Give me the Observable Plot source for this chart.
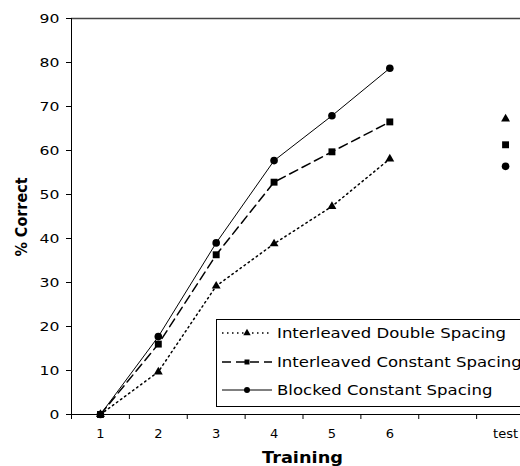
<!DOCTYPE html>
<html><head><meta charset="utf-8">
<script src="https://cdn.jsdelivr.net/npm/d3@7"></script>
<script src="https://cdn.jsdelivr.net/npm/@observablehq/plot@0.6"></script>
<style>body{margin:0;background:#fff} svg{font-family:"DejaVu Sans",Verdana,sans-serif}</style>
</head><body><div id="chart"></div>
<script>
const slots = [1, 2, 3, 4, 5, 6, 8];
const slotLabels = ["1", "2", "3", "4", "5", "6", "test"];
const slotBoundaries = [0.5, 1.5, 2.5, 3.5, 4.5, 5.5, 6.5, 7.5, 8.5];
const seriesNames = ["Interleaved Double Spacing", "Interleaved Constant Spacing", "Blocked Constant Spacing"];
const doubleSpacing = [0, 9.7, 29.2, 38.8, 47.3, 58.1, 67.2];
const constantSpacing = [0, 16.0, 36.3, 52.8, 59.7, 66.5, 61.3];
const blockedSpacing = [0, 17.7, 39.0, 57.7, 67.9, 78.7, 56.4];
const yTicks = [0, 10, 20, 30, 40, 50, 60, 70, 80, 90];

const styles = [
  {symbol: "triangle", r: 3.3, dash: "1.5,3.5", sw: 1.5},
  {symbol: "square", r: 3.9, dash: "9,5", sw: 1.5},
  {symbol: "circle", r: 3.8, dash: null, sw: 1}
];
const seriesValues = [doubleSpacing, constantSpacing, blockedSpacing];
const rows = [];
seriesValues.forEach((vals, i) => vals.forEach((v, j) => rows.push({series: seriesNames[i], idx: i, slot: slots[j], value: v})));

const marks = [
  Plot.ruleY([90], {stroke: "#444", strokeWidth: 1.5}),
  Plot.ruleX([0.5], {stroke: "black"}),
  Plot.ruleY([0], {stroke: "black"}),
  Plot.axisY({ticks: yTicks, tickSize: 5, tickPadding: 7, fontSize: 13, label: null, stroke: "black", className: "ytick"}),
  Plot.axisX({ticks: slotBoundaries, tickSize: 5, tickFormat: () => "", label: null}),
  Plot.axisX({ticks: slots, tickSize: 0, tickPadding: 14, fontSize: 13, label: null,
    tickFormat: d => slotLabels[slots.indexOf(d)]})
];
styles.forEach((s, i) => {
  const data = rows.filter(r => r.idx === i);
  marks.push(Plot.line(data.filter(r => r.slot <= 6), {x: "slot", y: "value", stroke: "black",
    strokeWidth: s.sw, strokeDasharray: s.dash}));
  marks.push(Plot.dot(data, {x: "slot", y: "value", symbol: s.symbol, r: s.r, fill: "black", stroke: "none"}));
});

const chart = Plot.plot({
  width: 520, height: 466,
  marginTop: 18, marginBottom: 52, marginLeft: 71, marginRight: 0,
  style: {fontFamily: '"DejaVu Sans", Verdana, sans-serif', fontSize: "13px", color: "black"},
  x: {domain: [0.5, 8.5], range: [71, 534]},
  y: {domain: [0, 90]},
  marks
});
document.getElementById("chart").appendChild(chart);

function stretch(sel, k) {
  sel.each(function () {
    const w = this.getComputedTextLength();
    if (w > 0) {
      this.setAttribute("textLength", (w * k).toFixed(1));
      this.setAttribute("lengthAdjust", "spacingAndGlyphs");
    }
  });
}
const svg = d3.select(chart);
stretch(svg.selectAll("g[aria-label='y-axis tick label'] text"), 1.2);

const xt = svg.append("text").attr("x", 302.5).attr("y", 463).attr("text-anchor", "middle")
  .attr("font-weight", "bold").attr("font-size", 15).attr("fill", "black").text("Training");
stretch(xt, 1.0);
xt.each(function () {
  const w = this.getComputedTextLength();
  this.setAttribute("textLength", 81);
  this.setAttribute("lengthAdjust", "spacingAndGlyphs");
});
const yt = svg.append("text").attr("transform", "translate(27,217) rotate(-90)").attr("text-anchor", "middle")
  .attr("font-weight", "bold").attr("font-size", 15).attr("fill", "black").text("% Correct")
  .attr("textLength", 79).attr("lengthAdjust", "spacingAndGlyphs");

const lg = svg.append("g");
lg.append("rect").attr("x", 216.5).attr("y", 319.5).attr("width", 320).attr("height", 87)
  .attr("fill", "white").attr("stroke", "black");
const rowY = [333, 362, 390];
const sym = {triangle: d3.symbolTriangle, square: d3.symbolSquare, circle: d3.symbolCircle};
const legSize = [24, 25, 28];
styles.forEach((s, i) => {
  lg.append("line").attr("x1", 222).attr("x2", 272).attr("y1", rowY[i]).attr("y2", rowY[i])
    .attr("stroke", "black").attr("stroke-width", s.sw).attr("stroke-dasharray", s.dash);
  lg.append("path").attr("d", d3.symbol(sym[s.symbol], legSize[i])()).attr("transform", `translate(247,${rowY[i]})`)
    .attr("fill", "black");
  lg.append("text").attr("x", 277).attr("y", rowY[i] + 5).attr("text-anchor", "start")
    .attr("font-size", 14).attr("fill", "black").text(seriesNames[i]);
});
const legTexts = lg.selectAll("text");
const firstW = legTexts.node().getComputedTextLength();
stretch(legTexts, 229 / firstW);
</script></body></html>
